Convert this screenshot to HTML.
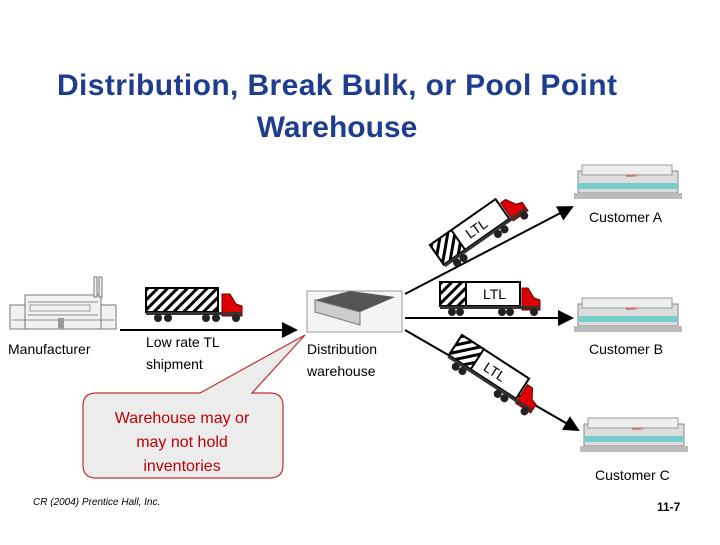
<!DOCTYPE html>
<html><head><meta charset="utf-8"><style>
body{margin:0;background:#fff;}
svg text{font-family:"Liberation Sans",sans-serif;}
</style></head><body>
<svg width="720" height="540" viewBox="0 0 720 540" xmlns="http://www.w3.org/2000/svg">
<defs>
<pattern id="h" width="7" height="7" patternUnits="userSpaceOnUse" patternTransform="rotate(45)"><rect width="7" height="7" fill="#fff"/><rect width="3" height="7" fill="#000"/></pattern>
<marker id="a" markerWidth="8" markerHeight="8" refX="7" refY="4" orient="auto"><path d="M0,0 L8,4 L0,8 z" fill="#000"/></marker>
<g id="truck">
<rect x="0" y="0" width="72" height="24" fill="url(#h)" stroke="#000" stroke-width="2"/>
<path d="M76,6 L84,6 L90,16 L96,18 L96,28 L76,28 z" fill="#d00" stroke="#600"/>
<rect x="0" y="24" width="96" height="3" fill="#333"/>
<circle cx="12" cy="30" r="4" fill="#222"/><circle cx="22" cy="30" r="4" fill="#222"/>
<circle cx="60" cy="30" r="4" fill="#222"/><circle cx="70" cy="30" r="4" fill="#222"/><circle cx="90" cy="30" r="4" fill="#222"/>
</g>
<g id="ltruck">
<rect x="0" y="0" width="80" height="24" fill="#fff" stroke="#000" stroke-width="2"/>
<rect x="0" y="0" width="26" height="24" fill="url(#h)" stroke="#000" stroke-width="2"/>
<path d="M82,6 L88,6 L94,16 L100,18 L100,28 L82,28 z" fill="#d00" stroke="#600"/>
<rect x="0" y="24" width="100" height="3" fill="#333"/>
<circle cx="12" cy="30" r="4" fill="#222"/><circle cx="20" cy="30" r="4" fill="#222"/>
<circle cx="62" cy="30" r="4" fill="#222"/><circle cx="70" cy="30" r="4" fill="#222"/><circle cx="94" cy="30" r="4" fill="#222"/>
</g>
<g id="store">
<rect x="0" y="8" width="100" height="22" fill="#ddd" stroke="#888"/>
<rect x="4" y="2" width="90" height="10" fill="#eee" stroke="#999"/>
<rect x="0" y="20" width="100" height="6" fill="#7cc"/>
<rect x="-4" y="30" width="108" height="6" fill="#bbb"/>
<text x="48" y="14" font-size="4" fill="#c00">MART</text>
</g>
</defs>
<text x="337" y="95" font-size="30" font-weight="bold" fill="#1f3d8f" text-anchor="middle" textLength="560">Distribution, Break Bulk, or Pool Point</text>
<text x="337" y="137" font-size="30" font-weight="bold" fill="#1f3d8f" text-anchor="middle">Warehouse</text>

<!-- factory -->
<g stroke="#777" fill="#f2f2f2">
<rect x="10" y="305" width="106" height="24"/>
<rect x="25" y="295" width="76" height="34"/>
<rect x="94" y="277" width="3" height="20"/><rect x="99" y="277" width="3" height="20"/>
</g>
<g stroke="#888"><line x1="28" y1="302" x2="98" y2="302"/><line x1="28" y1="315" x2="98" y2="315"/>
<line x1="12" y1="320" x2="114" y2="320"/></g>
<g fill="#999"><rect x="30" y="305" width="60" height="6" fill="none" stroke="#999"/><rect x="58" y="318" width="6" height="11"/></g>
<text x="8" y="354" font-size="14">Manufacturer</text>
<line x1="120" y1="330" x2="296" y2="330" stroke="#000" stroke-width="2" marker-end="url(#a)"/>
<use href="#truck" x="146" y="288"/>
<text x="146" y="347" font-size="14">Low rate TL</text>
<text x="146" y="369" font-size="14">shipment</text>

<!-- warehouse -->
<rect x="307" y="291" width="95" height="41" fill="#f4f4f4" stroke="#999"/>
<path d="M315,300 L350,291 L395,297 L360,312 z" fill="#555"/>
<path d="M315,300 L360,312 L360,325 L315,312 z" fill="#ccc" stroke="#777"/>
<text x="307" y="354" font-size="14">Distribution</text>
<text x="307" y="376" font-size="14">warehouse</text>

<!-- callout -->
<path d="M96,393 L200,393 L305,335 L252,393 L270,393 Q283,393 283,406 L283,465 Q283,478 270,478 L96,478 Q83,478 83,465 L83,406 Q83,393 96,393 z" fill="#ececec" stroke="#c03030" stroke-width="1.2"/>
<text x="182" y="423" font-size="16" fill="#c00000" text-anchor="middle">Warehouse may or</text>
<text x="182" y="447" font-size="16" fill="#c00000" text-anchor="middle">may not hold</text>
<text x="182" y="471" font-size="16" fill="#c00000" text-anchor="middle">inventories</text>

<!-- arrows to customers -->
<line x1="405" y1="294" x2="572" y2="207" stroke="#000" stroke-width="2" marker-end="url(#a)"/>
<line x1="405" y1="318" x2="572" y2="318" stroke="#000" stroke-width="2" marker-end="url(#a)"/>
<line x1="405" y1="330" x2="578" y2="430" stroke="#000" stroke-width="2" marker-end="url(#a)"/>

<g transform="translate(430,245) rotate(-35)"><use href="#ltruck"/><text x="36" y="18" font-size="14">LTL</text></g>
<use href="#ltruck" x="440" y="282"/><text x="483" y="299" font-size="14">LTL</text>
<g transform="translate(462,335) rotate(33)"><use href="#ltruck"/><text x="36" y="18" font-size="14">LTL</text></g>

<use href="#store" x="578" y="163"/>
<text x="589" y="222" font-size="14">Customer A</text>
<use href="#store" x="578" y="296"/>
<text x="589" y="354" font-size="14">Customer B</text>
<use href="#store" x="584" y="416"/>
<text x="595" y="480" font-size="14">Customer C</text>

<text x="33" y="505" font-size="10" font-style="italic">CR (2004) Prentice Hall, Inc.</text>
<text x="657" y="511" font-size="12" font-weight="bold">11-7</text>
</svg>
</body></html>
